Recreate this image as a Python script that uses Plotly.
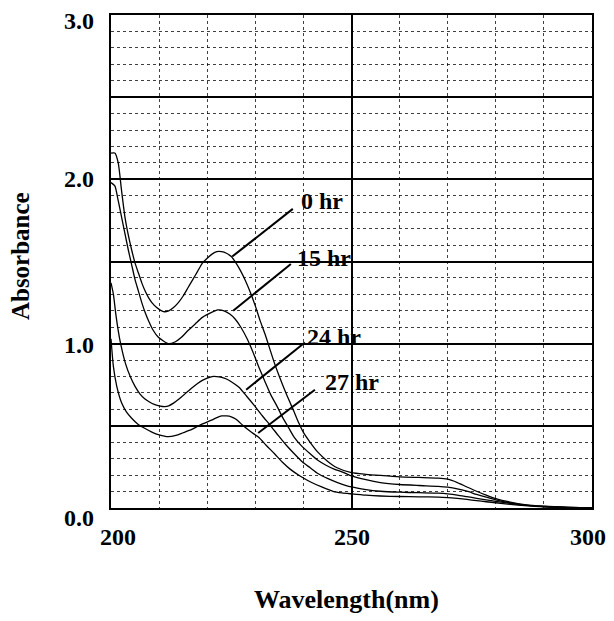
import plotly.graph_objects as go

# ---------------- data ----------------
series_names = ["0 hr", "15 hr", "24 hr", "27 hr"]

wl_0 = [200, 200.8, 201.5, 202.2, 202.9, 203.6, 204.3, 205, 205.7, 206.4, 207.1, 207.8, 208.5, 209.5,
        210.9, 212, 213, 214, 215, 216, 217, 218, 219, 220, 221, 222, 223, 224, 225, 226, 227,
        228, 229, 230, 231, 232, 233, 234, 235, 236.5, 238, 239, 240, 241.4, 243, 245, 247, 250,
        253, 256, 260, 264, 268, 270, 272, 274, 276, 278, 280, 283, 286, 290, 295, 300]
ab_0 = [2.16, 2.16, 2.10, 1.93, 1.77, 1.66, 1.57, 1.49, 1.43, 1.37, 1.32, 1.28, 1.25, 1.22,
        1.195, 1.2, 1.22, 1.25, 1.29, 1.34, 1.39, 1.44, 1.49, 1.52, 1.545, 1.56, 1.56, 1.55, 1.53, 1.49, 1.44,
        1.38, 1.31, 1.23, 1.14, 1.06, 0.97, 0.88, 0.80, 0.69, 0.59, 0.52, 0.46, 0.40, 0.34, 0.285, 0.245, 0.215,
        0.205, 0.198, 0.19, 0.186, 0.182, 0.175, 0.155, 0.128, 0.102, 0.078, 0.057, 0.036, 0.021, 0.011, 0.004, 0.0]

wl_15 = [200, 200.8, 201.5, 202.2, 202.9, 203.6, 204.3, 205, 205.7, 206.4, 207.1, 207.8, 208.8, 209.8,
         211.9, 213.3, 214.7, 216, 217.5, 219, 220.9, 222.2, 223.5, 224.7, 225.8, 227, 228.3, 229.5, 230.7,
         232, 233.2, 234.5, 235.7, 236.9, 238.1, 239.7, 241.4, 243, 244.7, 246.5, 248, 250,
         253, 256, 260, 264, 268, 270, 272, 274, 276, 278, 280, 283, 286, 290, 295, 300]
ab_15 = [1.98, 1.96, 1.87, 1.77, 1.67, 1.57, 1.48, 1.39, 1.32, 1.25, 1.19, 1.14, 1.08, 1.04,
         1.0, 1.01, 1.04, 1.08, 1.12, 1.16, 1.19, 1.205, 1.2, 1.18, 1.15, 1.10, 1.03, 0.95, 0.86,
         0.77, 0.69, 0.62, 0.55, 0.49, 0.43, 0.375, 0.33, 0.29, 0.26, 0.235, 0.22, 0.195,
         0.172, 0.155, 0.143, 0.137, 0.132, 0.127, 0.117, 0.102, 0.083, 0.066, 0.05, 0.031, 0.018, 0.009, 0.003, 0.0]

wl_24 = [200, 200.5, 201, 201.5, 202, 203, 204, 205, 206, 207, 208, 209, 210, 211.2, 212, 213, 214, 215,
         216, 217, 218, 219, 220, 221, 222, 223, 224, 225, 226.6, 228.2, 229.9, 231.5, 233.2, 234.8,
         236.5, 238.1, 239.8, 241.4, 243, 245, 247.1, 250, 253, 256, 260, 264, 268, 270, 272, 274,
         276, 278, 280, 283, 286, 290, 295, 300]
ab_24 = [1.37, 1.3, 1.18, 1.08, 1.0, 0.88, 0.8, 0.74, 0.695, 0.665, 0.645, 0.63, 0.622, 0.617, 0.622, 0.638,
         0.66, 0.685, 0.71, 0.735, 0.758, 0.777, 0.79, 0.8, 0.8, 0.795, 0.785, 0.768, 0.735, 0.68, 0.62,
         0.56, 0.50, 0.44, 0.38, 0.33, 0.28, 0.245, 0.21, 0.18, 0.155, 0.128, 0.112, 0.102, 0.096, 0.093,
         0.09, 0.086, 0.079, 0.069, 0.059, 0.049, 0.04, 0.028, 0.017, 0.008, 0.003, 0.0]

wl_27 = [200, 200.5, 201.2, 202.2, 203.2, 204.3, 205.6, 207, 208.5, 210, 211.9, 213.5, 215, 216.8, 218.5,
         220.9, 222, 223, 224, 225, 226, 227.5, 229, 230.7, 232.3, 234, 235.6, 237.3, 239.3, 241.4,
         243.8, 246.3, 248, 250, 253, 256, 260, 264, 268, 270, 272, 274, 276, 278, 280, 283, 286,
         290, 295, 300]
ab_27 = [1.03, 0.86, 0.74, 0.64, 0.585, 0.546, 0.51, 0.485, 0.462, 0.445, 0.434, 0.442, 0.458, 0.478, 0.505,
         0.535, 0.55, 0.56, 0.56, 0.555, 0.54, 0.50, 0.465, 0.43, 0.38, 0.33, 0.28, 0.235, 0.195, 0.16,
         0.128, 0.10, 0.092, 0.086, 0.078, 0.073, 0.07, 0.068, 0.066, 0.063, 0.058, 0.052, 0.045, 0.038,
         0.032, 0.022, 0.014, 0.007, 0.002, 0.0]

x_gridvals = [200, 250, 300]
x_labelvals = [200, 250, 300]
x_labeltext = ["200", "250", "300"]
y_gridvals = [0, 0.5, 1.0, 1.5, 2.0, 2.5, 3.0]
y_labelvals = [0.0, 1.0, 2.0, 3.0]
y_labeltext = ["0.0", "1.0", "2.0", "3.0"]

# label positions: (curve point, line end, text anchor)
label_lines = {
    "0 hr": ((225.2, 1.53), (237.8, 1.82), (239.1, 1.87)),
    "15 hr": ((225.4, 1.20), (237.4, 1.485), (238.3, 1.52)),
    "24 hr": ((228.1, 0.72), (240.3, 1.007), (240.3, 1.04)),
    "27 hr": ((230.6, 0.456), (242.4, 0.72), (244.1, 0.767)),
}

# ---------------- figure ----------------
FONT = "Liberation Serif"
fig = go.Figure()
for name, xs, ys in zip(series_names, [wl_0, wl_15, wl_24, wl_27], [ab_0, ab_15, ab_24, ab_27]):
    fig.add_trace(go.Scatter(x=xs, y=ys, mode="lines", name=name,
                             line=dict(color="black", width=1.3, shape="spline", smoothing=0.6),
                             showlegend=False))

for name, (p0, p1, pt) in label_lines.items():
    fig.add_shape(type="line", xref="x", yref="y", x0=p0[0], y0=p0[1], x1=p1[0], y1=p1[1],
                  line=dict(color="black", width=2))
    fig.add_annotation(x=pt[0], y=pt[1], xref="x", yref="y", text=name, showarrow=False,
                       xanchor="left", yanchor="middle",
                       font=dict(family=FONT, size=24, color="black", weight="bold"))

# y tick labels (the printed labels sit a little below the top/bottom gridlines)
y_label_shift = {0.0: -10, 1.0: -1, 2.0: 0, 3.0: -6}
for v, t in zip(y_labelvals, y_labeltext):
    fig.add_annotation(xref="paper", yref="y", x=0, y=v, xshift=-15, yshift=y_label_shift[v], text=t,
                       showarrow=False, xanchor="right", yanchor="middle",
                       font=dict(family=FONT, size=24, color="black", weight="bold"))

# x tick labels
x_label_shift = {200: 7, 250: 0, 300: -4}
for v, t in zip(x_labelvals, x_labeltext):
    fig.add_annotation(xref="x", yref="paper", x=v, y=0, xshift=x_label_shift[v], yshift=-29, text=t,
                       showarrow=False, xanchor="center", yanchor="middle",
                       font=dict(family=FONT, size=24, color="black", weight="bold"))

fig.add_annotation(xref="paper", yref="paper", x=0.49, y=0, yshift=-91, text="Wavelength(nm)",
                   showarrow=False, xanchor="center", yanchor="middle",
                   font=dict(family=FONT, size=26, color="black", weight="bold"))
fig.add_annotation(xref="paper", yref="paper", x=0, xshift=-91, y=0.511, text="Absorbance",
                   textangle=-90, showarrow=False, xanchor="center", yanchor="middle",
                   font=dict(family=FONT, size=25, color="black", weight="bold"))

fig.update_xaxes(range=[200, 300], tickvals=x_gridvals, showticklabels=False, automargin=False,
                 showgrid=True, gridcolor="black", gridwidth=1.5,
                 minor=dict(dtick=10, showgrid=True, gridcolor="rgba(0,0,0,0.75)", gridwidth=1, griddash="dot"),
                 showline=True, linecolor="black", linewidth=2, mirror=True,
                 ticks="", zeroline=False)
fig.update_yaxes(range=[0, 3], tickvals=y_gridvals, showticklabels=False, automargin=False,
                 showgrid=True, gridcolor="black", gridwidth=2,
                 minor=dict(dtick=0.1, showgrid=True, gridcolor="rgba(0,0,0,0.75)", gridwidth=1, griddash="dot"),
                 showline=True, linecolor="black", linewidth=2, mirror=True,
                 ticks="", zeroline=False)

# the page body has an 8px margin, so the figure is sized to fit inside the 614x621 window
fig.update_layout(width=598, height=605, margin=dict(l=103, r=14, t=7, b=105, autoexpand=False),
                  paper_bgcolor="white", plot_bgcolor="white", showlegend=False)

fig.write_html("out.html")
